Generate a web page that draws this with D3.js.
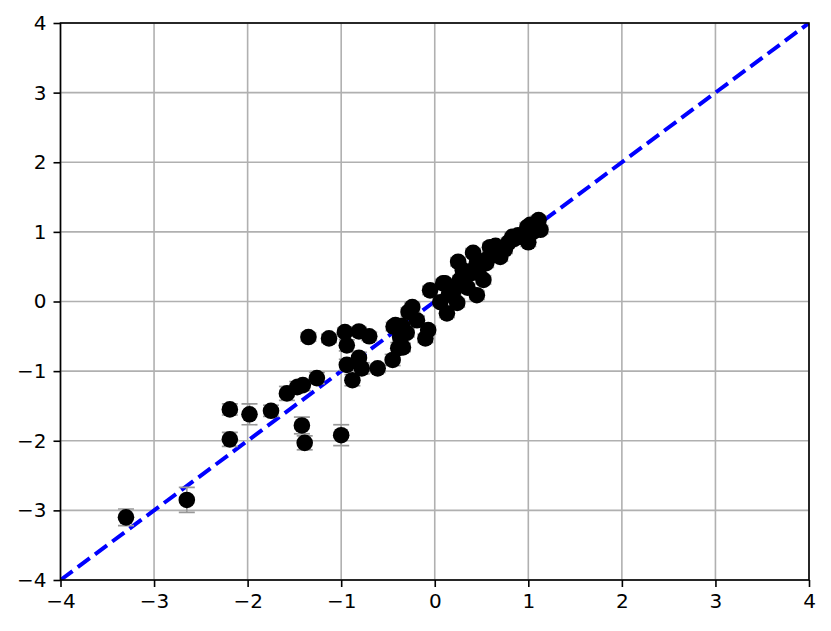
<!DOCTYPE html>
<html>
<head>
<meta charset="utf-8">
<script src="https://cdn.jsdelivr.net/npm/d3@7"></script>
<style>
html,body{margin:0;padding:0;background:#fff;}
svg{display:block;}
</style>
</head>
<body>
<svg id="chart" width="831" height="631"></svg>
<script>
// Data: measured x, predicted y, error (half-length)
const xVals = [-3.30,-2.65,-2.19,-2.19,-1.98,-1.75,-1.58,-1.47,-1.41,-1.26,-1.42,-1.39,-1.35,-1.13,-1.00,-0.96,-0.81,-0.70,-0.94,-0.94,-0.81,-0.78,-0.88,-0.61,-0.45,-0.42,-0.37,-0.39,-0.34,-0.44,-0.24,-0.19,-0.10,-0.07,-0.05,0.09,0.06,0.13,0.24,0.27,0.45,0.40,0.25,0.41,0.59,0.52,0.41,0.70,0.83,0.99,1.11,1.13,1.00,0.79,0.89,0.11,0.49,0.63,0.66,1.05,0.95,0.20,0.35,-0.28,0.55,0.75,1.08,0.30,0.45,0.55,0.35,-0.30,-0.35,0.65,0.85,1.02,0.15];
const yVals = [-3.10,-2.85,-1.55,-1.98,-1.62,-1.57,-1.32,-1.23,-1.20,-1.10,-1.78,-2.03,-0.51,-0.53,-1.92,-0.44,-0.43,-0.50,-0.63,-0.91,-0.81,-0.96,-1.13,-0.96,-0.84,-0.34,-0.51,-0.67,-0.66,-0.36,-0.08,-0.27,-0.53,-0.41,0.16,0.26,-0.01,-0.17,-0.02,0.31,0.09,0.41,0.57,0.70,0.78,0.31,0.45,0.64,0.93,1.07,1.17,1.03,0.85,0.85,0.95,0.26,0.52,0.67,0.72,1.00,0.92,0.15,0.40,-0.15,0.55,0.75,1.10,0.45,0.55,0.60,0.20,-0.45,-0.35,0.80,0.90,1.10,0.10];
const errVals = [0.12,0.18,0.08,0.10,0.15,0.08,0.10,0.08,0.08,0.08,0.12,0.10,0.06,0.06,0.15,0.06,0.06,0.06,0.08,0.08,0.08,0.08,0.08,0.06,0.08,0.06,0.06,0.08,0.06,0.06,0.06,0.06,0.06,0.06,0.06,0.06,0.06,0.06,0.06,0.06,0.06,0.06,0.06,0.06,0.06,0.06,0.06,0.06,0.06,0.06,0.06,0.06,0.06,0.06,0.06,0.06,0.06,0.06,0.06,0.06,0.06,0.06,0.06,0.06,0.06,0.06,0.06,0.06,0.06,0.06,0.06,0.06,0.06,0.06,0.06,0.06,0.06];
const xTicks = [-4,-3,-2,-1,0,1,2,3,4];
const yTicks = [-4,-3,-2,-1,0,1,2,3,4];
const lineX = [-4,4];
const lineY = [-4,4];

const points = xVals.map((x,i)=>({x, y:yVals[i], e:errVals[i]}));

const svg = d3.select("#chart");
const L = 60.5, R = 809, T = 23, B = 580;
const x = d3.scaleLinear().domain([-4,4]).range([L,R]);
const y = d3.scaleLinear().domain([-4,4]).range([B,T]);
const fmt = d => (d<0 ? "\u2212" + Math.abs(d) : String(d));
const font = "'DejaVu Sans', sans-serif";
const fs = "20px";

// Grid
const g = svg.append("g");
g.selectAll(".gx").data(xTicks).join("line")
  .attr("x1",d=>x(d)).attr("x2",d=>x(d)).attr("y1",T).attr("y2",B)
  .attr("stroke","#b0b0b0").attr("stroke-width",1.6);
g.selectAll(".gy").data(yTicks).join("line")
  .attr("y1",d=>y(d)).attr("y2",d=>y(d)).attr("x1",L).attr("x2",R)
  .attr("stroke","#b0b0b0").attr("stroke-width",1.6);

// clip
svg.append("clipPath").attr("id","clip").append("rect")
  .attr("x",L).attr("y",T).attr("width",R-L).attr("height",B-T);

const plot = svg.append("g").attr("clip-path","url(#clip)");

// Dashed identity line
plot.append("line")
  .attr("x1",x(lineX[0])).attr("y1",y(lineY[0]))
  .attr("x2",x(lineX[1])).attr("y2",y(lineY[1]))
  .attr("stroke","#0000ff").attr("stroke-width",4)
  .attr("stroke-dasharray","15,6.5");

// Error bars
const eb = plot.append("g").attr("stroke","#999999").attr("stroke-width",1.7);
eb.selectAll(".v").data(points).join("line")
  .attr("x1",d=>x(d.x)).attr("x2",d=>x(d.x))
  .attr("y1",d=>y(d.y-d.e)).attr("y2",d=>y(d.y+d.e));
eb.selectAll(".c1").data(points).join("line")
  .attr("x1",d=>x(d.x)-8).attr("x2",d=>x(d.x)+8)
  .attr("y1",d=>y(d.y-d.e)).attr("y2",d=>y(d.y-d.e));
eb.selectAll(".c2").data(points).join("line")
  .attr("x1",d=>x(d.x)-8).attr("x2",d=>x(d.x)+8)
  .attr("y1",d=>y(d.y+d.e)).attr("y2",d=>y(d.y+d.e));

// Points
plot.selectAll("circle").data(points).join("circle")
  .attr("cx",d=>x(d.x)).attr("cy",d=>y(d.y)).attr("r",8.3)
  .attr("fill","#000");

// Axes
const xAxis = d3.axisBottom(x).tickValues(xTicks).tickFormat(fmt).tickSize(7).tickPadding(7);
const yAxis = d3.axisLeft(y).tickValues(yTicks).tickFormat(fmt).tickSize(7).tickPadding(7);
const ax = svg.append("g").attr("transform",`translate(0,${B})`).call(xAxis);
const ay = svg.append("g").attr("transform",`translate(${L},0)`).call(yAxis);
[ax,ay].forEach(a=>{
  a.select(".domain").remove();
  a.selectAll(".tick line").attr("stroke","#000").attr("stroke-width",1.6);
  a.selectAll("text").attr("font-family",font).attr("font-size",fs).attr("fill","#000");
});

// Spines
svg.append("rect").attr("x",L).attr("y",T).attr("width",R-L).attr("height",B-T)
  .attr("fill","none").attr("stroke","#000").attr("stroke-width",1.6);
</script>
</body>
</html>
